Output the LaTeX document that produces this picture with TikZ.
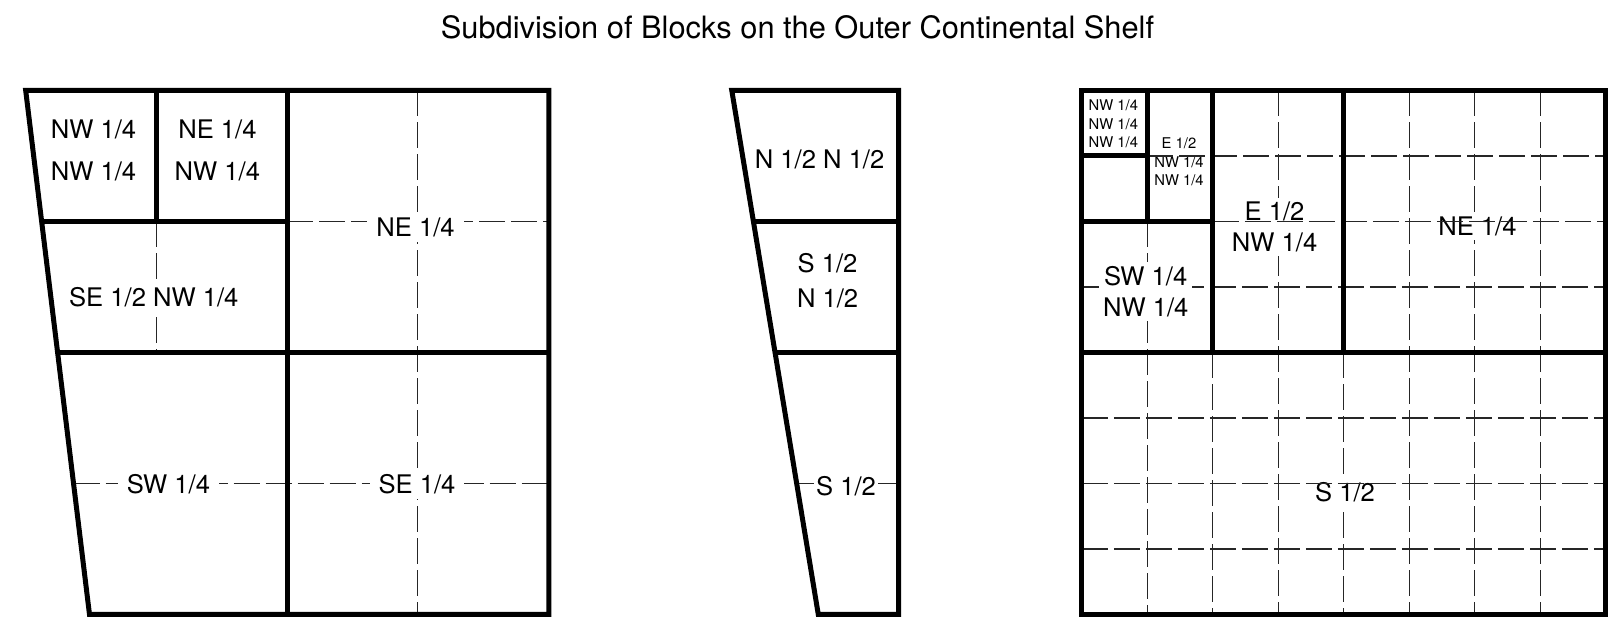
\documentclass[tikz,border=0pt]{standalone}
\usepackage{fontspec}
\setmainfont{TeX Gyre Heros}
\usetikzlibrary{calc}
\begin{document}
\begin{tikzpicture}[x=0.5pt,y=-0.5pt,
  bold/.style={line width=2.5pt, line join=miter},
  grid/.style={line width=0.6pt, black!85, dash pattern=on 13pt off 3pt},
  fine/.style={line width=0.6pt, black!85},
  lblL/.style={font=\fontsize{12.8}{20.7}\selectfont, align=center, inner xsep=4.5pt, inner ysep=2.5pt, fill=white},
  lblM/.style={font=\fontsize{12.8}{17.5}\selectfont, align=center, inner sep=1.2pt, fill=white},
  lblR/.style={font=\fontsize{12.8}{15.6}\selectfont, align=center, inner sep=2pt, fill=white},
  lblS/.style={font=\fontsize{7.4}{9.35}\selectfont, align=center, inner sep=0.5pt}]
\useasboundingbox (0,0) rectangle (1614,619);

% title
\node[font=\fontsize{15.4}{18}\selectfont, inner sep=0pt] (title) at (797.5,27.5) {Subdivision of Blocks on the Outer Continental Shelf};

% ---------------- left block ----------------
\coordinate (LTL) at (25.7,90.5);
\coordinate (LTR) at (548.9,90.5);
\coordinate (LBR) at (548.9,614.5);
\coordinate (LBL) at (89.5,614.5);
\coordinate (LE1) at ($(LTL)!0.25!(LBL)$);
\coordinate (LE2) at ($(LTL)!0.5!(LBL)$);
\coordinate (LE3) at ($(LTL)!0.75!(LBL)$);

\draw[grid] (417.5,90.5) -- (417.5,614.5);
\draw[grid] (156.7,221.5) -- (156.7,352.5);
\draw[grid] (287.3,221.5) -- (548.9,221.5);
\draw[grid] (LE3) -- (548.9,483.5);

\node[lblL] (lnwnw) at (93.5,150.5) {NW 1/4\\NW 1/4};
\node[lblL] (lnenw) at (217.4,150.5) {NE 1/4\\NW 1/4};
\node[lblL] (lne) at (415.5,227.8) {NE 1/4};
\node[lblL] (lsenw) at (153.8,297.4) {SE 1/2 NW 1/4};
\node[lblL] (lsw) at (168.5,484.5) {SW 1/4};
\node[lblL] (lse) at (417,484.5) {SE 1/4};

\draw[bold] (LTL) -- (LTR) -- (LBR) -- (LBL) -- cycle;
\draw[bold] (287.3,90.5) -- (287.3,614.5);
\draw[bold] (LE2) -- (548.9,352.5);
\draw[bold] (LE1) -- (287.3,221.5);
\draw[bold] (156.7,90.5) -- (156.7,221.5);

% ---------------- middle block ----------------
\coordinate (MTL) at (731.8,90.5);
\coordinate (MTR) at (898.6,90.5);
\coordinate (MBR) at (898.6,614.5);
\coordinate (MBL) at (818.3,614.5);
\coordinate (ME1) at ($(MTL)!0.25!(MBL)$);
\coordinate (ME2) at ($(MTL)!0.5!(MBL)$);
\coordinate (ME3) at ($(MTL)!0.75!(MBL)$);

\draw[fine] (ME3) -- (898.6,483.5);

\node[lblM] (mnn) at (819.6,159.3) {N 1/2 N 1/2};
\node[lblM] (msn) at (827.6,281) {S 1/2\\N 1/2};
\node[lblM] (ms) at (846,486.3) {S 1/2};

\draw[bold] (MTL) -- (MTR) -- (MBR) -- (MBL) -- cycle;
\draw[bold] (ME1) -- (898.6,221.5);
\draw[bold] (ME2) -- (898.6,352.5);

% ---------------- right block ----------------
\draw[grid] (1147.3,221.5) -- (1147.3,614.5);
\draw[grid] (1212.8,352.5) -- (1212.8,614.5);
\draw[grid] (1278.3,90.5) -- (1278.3,614.5);
\draw[grid] (1343.8,352.5) -- (1343.8,614.5);
\draw[grid] (1409.3,90.5) -- (1409.3,614.5);
\draw[grid] (1474.8,90.5) -- (1474.8,614.5);
\draw[grid] (1540.3,90.5) -- (1540.3,614.5);
\draw[grid] (1081.8,287) -- (1605.8,287);

\node[lblS] (rnwnwnw) at (1113.3,123.8) {NW 1/4\\NW 1/4\\NW 1/4};
\node[lblS] (renwnw) at (1179,162) {E 1/2\\NW 1/4\\NW 1/4};
\node[lblR] (renw) at (1274.6,227.3) {E 1/2\\NW 1/4};
\node[lblR] (rne) at (1477.4,226.9) {NE 1/4};
\node[lblR] (rswnw) at (1145.7,291.5) {SW 1/4\\NW 1/4};
\node[lblR] (rs) at (1345,491.9) {S 1/2};

\draw[grid] (1147.3,156) -- (1605.8,156);
\draw[grid] (1212.8,221.5) -- (1605.8,221.5);
\draw[grid] (1081.8,418) -- (1605.8,418);
\draw[grid] (1081.8,483.5) -- (1605.8,483.5);
\draw[grid] (1081.8,549) -- (1605.8,549);

\draw[bold] (1081.8,90.5) rectangle (1605.8,614.5);
\draw[bold] (1081.8,352.5) -- (1605.8,352.5);
\draw[bold] (1212.8,90.5) -- (1212.8,352.5);
\draw[bold] (1343.8,90.5) -- (1343.8,352.5);
\draw[bold] (1081.8,221.5) -- (1212.8,221.5);
\draw[bold] (1147.3,90.5) -- (1147.3,221.5);
\draw[bold] (1081.8,156) -- (1147.3,156);
\end{tikzpicture}
\end{document}
